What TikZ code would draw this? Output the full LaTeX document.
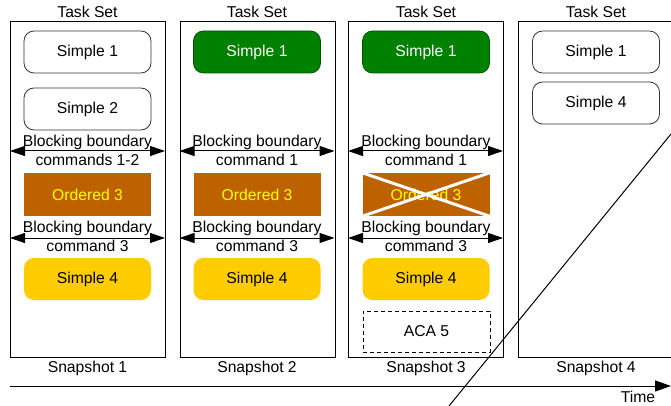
\documentclass[tikz,border=0pt]{standalone}
\usepackage{fontspec}
\setmainfont{Liberation Sans}
\usetikzlibrary{arrows.meta}
\definecolor{ordfill}{RGB}{190,98,0}
\definecolor{grfill}{RGB}{0,128,0}
\definecolor{grdraw}{RGB}{0,87,0}
\definecolor{yelfill}{RGB}{255,204,0}
\definecolor{txtyel}{RGB}{255,255,0}
\tikzset{
  every node/.style={font=\fontsize{15.7}{19}\selectfont, inner sep=0pt},
  frame/.style={draw=black, line width=1pt, minimum width=155pt, minimum height=336pt, anchor=north west},
  simplebox/.style={draw=black!80, line width=0.8pt, rounded corners=10pt, minimum width=127pt, minimum height=42pt, fill=white},
  donebox/.style={simplebox, draw=grdraw, fill=grfill, text=white},
  yelbox/.style={rounded corners=10pt, minimum width=127pt, minimum height=42pt, fill=yelfill},
  ordbox/.style={fill=ordfill, text=txtyel, minimum width=127pt, minimum height=43pt},
  acabox/.style={draw=black, dashed, dash pattern=on 4pt off 3pt, line width=0.8pt, minimum width=127pt, minimum height=41pt},
  barrow/.style={line width=1pt, {Triangle[length=15pt,width=10pt]}-{Triangle[length=15pt,width=10pt]}},
  blabel/.style={align=center},
  crossline/.style={draw=white, line width=3pt},
}
\begin{document}
\begin{tikzpicture}[x=1pt,y=-1pt]
\useasboundingbox (0,0) rectangle (671,406);
\fill[white] (0,0) rectangle (671,406);
\begin{scope}
\clip (0,0) rectangle (671,406);
% frames
\node[frame] (f1) at (10,21) {};
\node[frame] (f2) at (179.5,21) {};
\node[frame] (f3) at (348,21) {};
\node[frame] (f4) at (518,21) {};
\end{scope}
% titles
\node (t1) at (87.5,12) {Task Set};
\node (t2) at (257,12) {Task Set};
\node (t3) at (426,12) {Task Set};
\node (t4) at (596,12) {Task Set};
% snapshot labels
\node (s1) at (87.5,368) {Snapshot 1};
\node (s2) at (257,368) {Snapshot 2};
\node (s3) at (426,368) {Snapshot 3};
\node (s4) at (596,368) {Snapshot 4};

% ---------- Snapshot 1
\node[simplebox] (a1) at (87.5,52) {Simple 1};
\node[simplebox] (a2) at (87.5,109) {Simple 2};
\coordinate (a1l) at (10,151); \coordinate (a1r) at (165,151);
\draw[barrow] (a1l) -- (a1r);
\node[blabel] (ab1) at (87.5,150) {Blocking boundary\\commands 1-2};
\node[ordbox] (a3) at (87.5,194.5) {Ordered 3};
\coordinate (a2l) at (10,238); \coordinate (a2r) at (165,238);
\draw[barrow] (a2l) -- (a2r);
\node[blabel] (ab2) at (87.5,236) {Blocking boundary\\command 3};
\node[yelbox] (a4) at (87.5,279) {Simple 4};

% ---------- Snapshot 2
\node[donebox] (b1) at (257,52) {Simple 1};
\coordinate (b1l) at (179.5,151); \coordinate (b1r) at (334.5,151);
\draw[barrow] (b1l) -- (b1r);
\node[blabel] (bb1) at (257,150) {Blocking boundary\\command 1};
\node[ordbox] (b3) at (257,194.5) {Ordered 3};
\coordinate (b2l) at (179.5,238); \coordinate (b2r) at (334.5,238);
\draw[barrow] (b2l) -- (b2r);
\node[blabel] (bb2) at (257,236) {Blocking boundary\\command 3};
\node[yelbox] (b4) at (257,279) {Simple 4};

% ---------- Snapshot 3
\node[donebox] (c1) at (426,52) {Simple 1};
\coordinate (c1l) at (348,151); \coordinate (c1r) at (503,151);
\draw[barrow] (c1l) -- (c1r);
\node[blabel] (cb1) at (426,150) {Blocking boundary\\command 1};
\node[ordbox] (c3) at (426,194.5) {Ordered 3};
\draw[crossline] (c3.north west) -- (c3.south east);
\draw[crossline] (c3.south west) -- (c3.north east);
\coordinate (c2l) at (348,238); \coordinate (c2r) at (503,238);
\draw[barrow] (c2l) -- (c2r);
\node[blabel] (cb2) at (426,236) {Blocking boundary\\command 3};
\node[yelbox] (c4) at (426,279) {Simple 4};
\node[acabox] (c5) at (426.5,331.5) {ACA 5};

% ---------- Snapshot 4
\node[simplebox] (d1) at (596,52) {Simple 1};
\node[simplebox] (d4) at (596,103) {Simple 4};

% ---------- time axis
\coordinate (ts) at (10,386);
\coordinate (te) at (671,386);
\draw[line width=1pt, -{Triangle[length=16pt,width=11pt]}] (ts) -- (te);
\node (time) at (638,397) {Time};

% ---------- diagonal
\coordinate (dg1) at (449,406);
\coordinate (dg2) at (671,134);
\draw[line width=1pt] (dg1) -- (dg2);
\end{tikzpicture}
\end{document}
